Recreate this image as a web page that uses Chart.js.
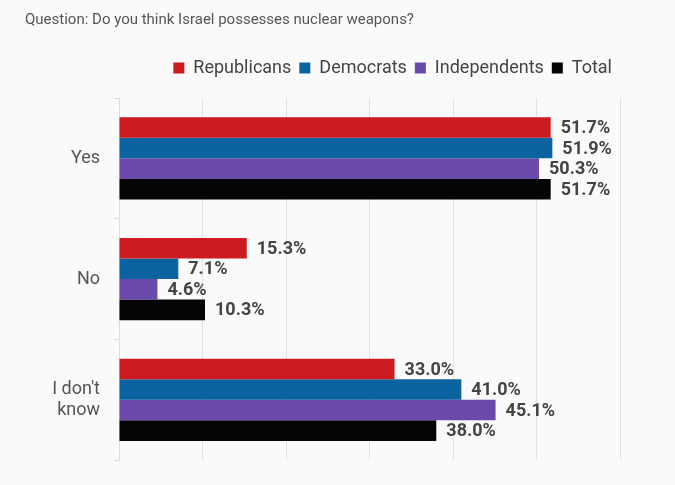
<!DOCTYPE html>
<html>
<head>
<meta charset="utf-8">
<script src="https://cdn.jsdelivr.net/npm/chart.js@4.4.1/dist/chart.umd.min.js"></script>
<style>
  html, body { margin: 0; padding: 0; background: #fafafa; }
  #wrap { width: 675px; height: 485px; }
</style>
</head>
<body>
<div id="wrap"><canvas id="pollChart"></canvas></div>
<script>
const answers = ['Yes', 'No', ["I don't", 'know']];
const republicans = [51.7, 15.3, 33.0];
const democrats = [51.9, 7.1, 41.0];
const independents = [50.3, 4.6, 45.1];
const total = [51.7, 10.3, 38.0];

const seriesNames = ['Republicans', 'Democrats', 'Independents', 'Total'];
const seriesColors = ['#cc1b21', '#0b64a0', '#6a4bab', '#050508'];

// value labels at the end of each bar
const barLabels = {
    id: 'barLabels',
    afterDatasetsDraw(chart) {
        const ctx = chart.ctx;
        ctx.save();
        ctx.font = 'bold 18px Roboto, "Liberation Sans", sans-serif';
        ctx.fillStyle = '#444';
        ctx.textBaseline = 'middle';
        ctx.textAlign = 'left';
        chart.data.datasets.forEach((ds, i) => {
            chart.getDatasetMeta(i).data.forEach((bar, j) => {
                ctx.fillText(ds.data[j].toFixed(1) + '%', bar.x + 10, bar.y + 1);
            });
        });
        ctx.restore();
    }
};

// extra space under the legend
const legendGap = {
    id: 'legendGap',
    beforeInit(chart) {
        const fit = chart.legend.fit;
        chart.legend.fit = function () {
            fit.call(this);
            this.height += 11;
        };
    }
};

const ctx = document.getElementById('pollChart').getContext('2d');
new Chart(ctx, {
    type: 'bar',
    data: {
        labels: answers,
        datasets: [republicans, democrats, independents, total].map((d, i) => ({
            label: seriesNames[i],
            data: d,
            backgroundColor: seriesColors[i],
            borderWidth: 0,
            categoryPercentage: 0.68,
            barPercentage: 1
        }))
    },
    options: {
        indexAxis: 'y',
        responsive: true,
        maintainAspectRatio: false,
        animation: false,
        layout: { padding: { left: 25, right: 55, top: 0, bottom: 24 } },
        plugins: {
            title: {
                display: true,
                text: 'Question: Do you think Israel possesses nuclear weapons?',
                align: 'start',
                color: '#555',
                font: { family: 'Roboto', size: 15, weight: 'normal' },
                padding: { top: 11, bottom: 22 }
            },
            legend: {
                position: 'top',
                align: 'end',
                labels: {
                    color: '#444',
                    font: { family: 'Roboto', size: 18 },
                    boxWidth: 11,
                    boxHeight: 11,
                    padding: 8
                }
            },
            tooltip: { enabled: false }
        },
        scales: {
            x: {
                min: 0,
                max: 60,
                ticks: { display: false, stepSize: 10 },
                grid: { color: '#e2e2e2', drawTicks: false },
                border: { display: false }
            },
            y: {
                ticks: {
                    color: '#555',
                    font: { family: 'Roboto', size: 18 },
                    padding: 14
                },
                grid: { drawOnChartArea: false, drawTicks: true, tickLength: 5, color: '#dcdcdc' },
                border: { display: true, color: '#dcdcdc' },
                afterFit(scale) { scale.width = 94; }
            }
        }
    },
    plugins: [barLabels, legendGap]
});
</script>
</body>
</html>
